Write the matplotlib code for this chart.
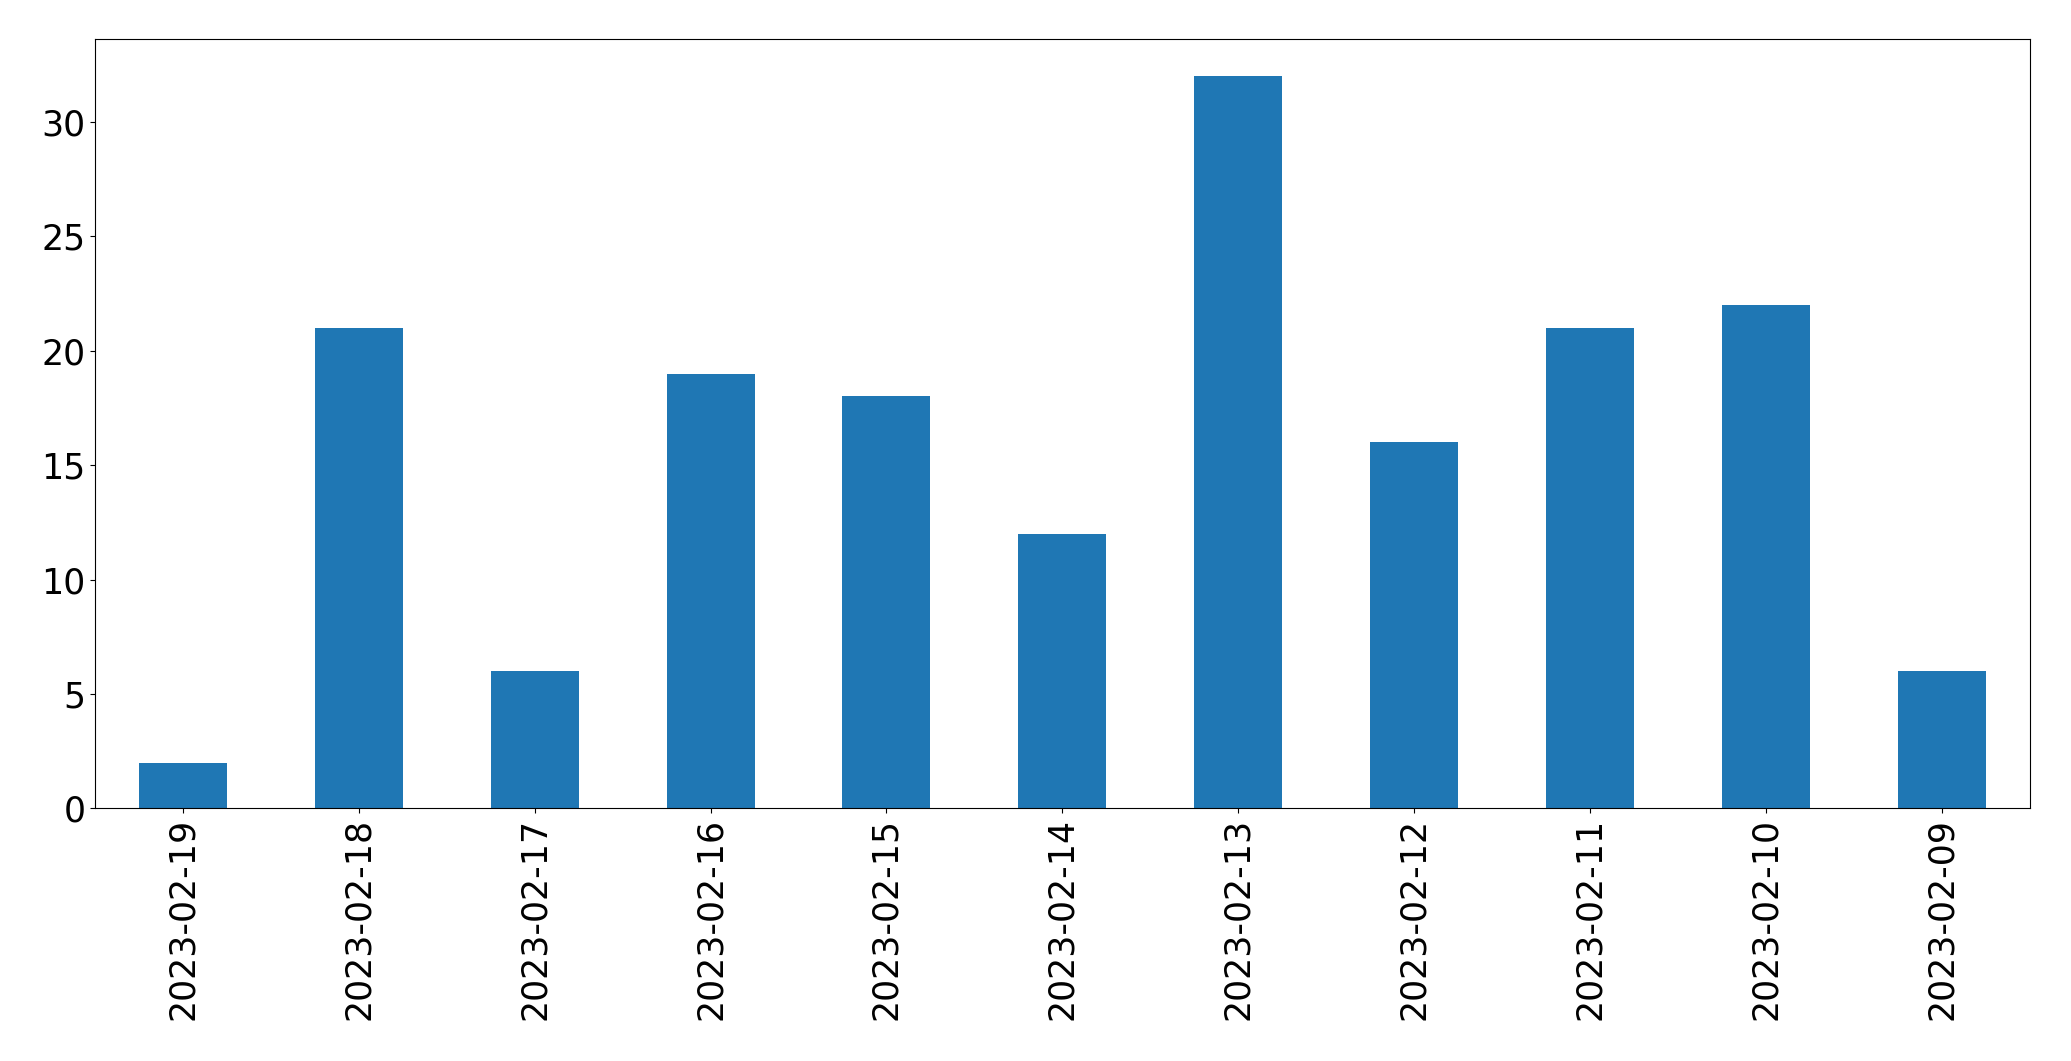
import matplotlib
matplotlib.use("Agg")
import matplotlib.pyplot as plt
import numpy as np

dates = ["2023-02-19", "2023-02-18", "2023-02-17", "2023-02-16", "2023-02-15",
         "2023-02-14", "2023-02-13", "2023-02-12", "2023-02-11", "2023-02-10",
         "2023-02-09"]
counts = [2, 21, 6, 19, 18, 12, 32, 16, 21, 22, 6]

fig = plt.figure(figsize=(20.71, 10.61), dpi=100)
ax = fig.add_axes([0.0459, 0.238, 0.9341, 0.725])
x = np.arange(len(dates))
ax.bar(x, counts, width=0.5, color="#1f77b4")
ax.set_xlim(-0.5, len(dates) - 0.5)
ax.set_ylim(0, max(counts) * 1.05)
ax.set_xticks(x)
ax.set_xticklabels(dates, rotation=90)
ax.tick_params(labelsize=25)
fig.savefig("out.png", dpi=100)
